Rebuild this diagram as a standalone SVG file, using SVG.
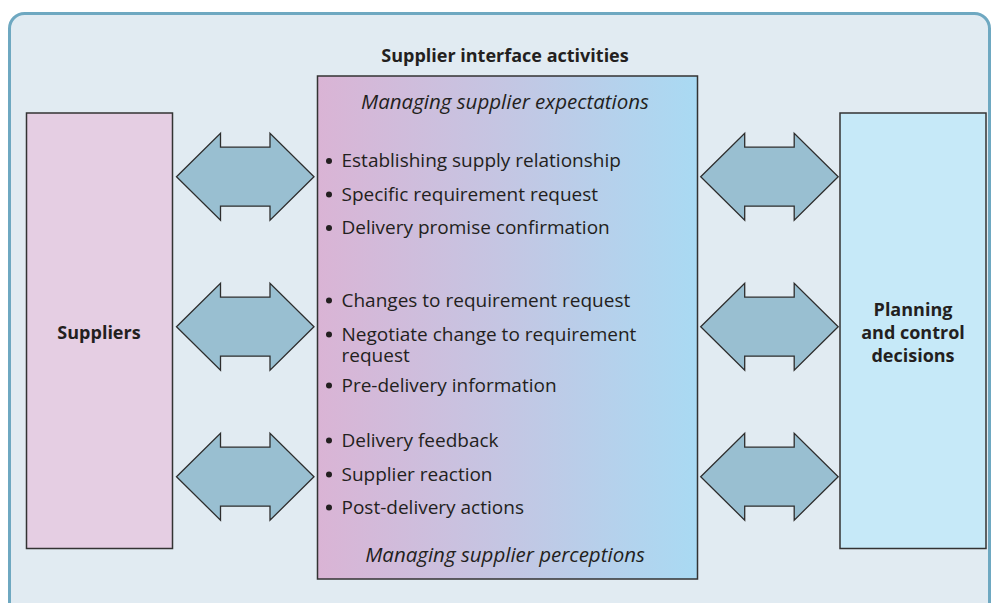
<svg xmlns="http://www.w3.org/2000/svg" width="997" height="603" viewBox="0 0 997 603">
<defs>
<linearGradient id="mid" x1="0" y1="0" x2="1" y2="0">
<stop offset="0" stop-color="#dab4d5"/>
<stop offset="0.5" stop-color="#c4c6e3"/>
<stop offset="1" stop-color="#a9daf3"/>
</linearGradient>
<path id="arrow" d="M0,0 L44,-43.5 L44,-29.5 L93.5,-29.5 L93.5,-43.5 L137.5,0 L93.5,43.5 L93.5,29.5 L44,29.5 L44,43.5 Z"/>
<style>
.box{stroke:#333;stroke-width:1.5}
.arr{fill:#99bfd1;stroke:#2d2d2d;stroke-width:1.3;stroke-linejoin:miter}
.t{font-family:"Open Sans","Liberation Sans",sans-serif;font-size:19px;fill:#231f20}
.h{font-size:18px;font-weight:bold}
.i{font-style:italic;font-size:20.5px}
.bul{fill:#231f20}
</style>
</defs>
<rect x="0" y="0" width="997" height="603" fill="#ffffff"/>
<g id="frame">
<rect x="9.5" y="13.5" width="980" height="620" rx="15" fill="#e1ebf2" stroke="#6ea8c1" stroke-width="3"/>
</g>
<g id="title"><text class="t h" x="505" y="61.5" text-anchor="middle">Supplier interface activities</text></g>
<g id="suppliers">
<rect class="box" x="26.5" y="113" width="146" height="435.5" fill="#e5cee3"/>
<text class="t h" x="99" y="338.5" text-anchor="middle">Suppliers</text>
</g>
<g id="activities">
<rect class="box" x="317.5" y="76" width="380" height="503" fill="url(#mid)"/>
<text class="t i" x="505" y="108.5" text-anchor="middle">Managing supplier expectations</text>
<g class="bul">
<circle cx="329" cy="161" r="3"/>
<circle cx="329" cy="194.5" r="3"/>
<circle cx="329" cy="228" r="3"/>
<circle cx="329" cy="300.5" r="3"/>
<circle cx="329" cy="334.5" r="3"/>
<circle cx="329" cy="385.5" r="3"/>
<circle cx="329" cy="440.5" r="3"/>
<circle cx="329" cy="474.5" r="3"/>
<circle cx="329" cy="507.5" r="3"/>
</g>
<text class="t" x="341.5" y="167">Establishing supply relationship</text>
<text class="t" x="341.5" y="200.5">Specific requirement request</text>
<text class="t" x="341.5" y="234">Delivery promise confirmation</text>
<text class="t" x="341.5" y="306.5">Changes to requirement request</text>
<text class="t" x="341.5" y="340.5">Negotiate change to requirement<tspan x="341.5" dy="21">request</tspan></text>
<text class="t" x="341.5" y="391.5">Pre-delivery information</text>
<text class="t" x="341.5" y="446.5">Delivery feedback</text>
<text class="t" x="341.5" y="480.5">Supplier reaction</text>
<text class="t" x="341.5" y="513.5">Post-delivery actions</text>
<text class="t i" x="505" y="561.5" text-anchor="middle">Managing supplier perceptions</text>
</g>
<g id="planning">
<rect class="box" x="840" y="113" width="146" height="435.5" fill="#c6e9f8"/>
<text class="t h" x="913" y="316" text-anchor="middle">Planning<tspan x="913" dy="23">and control</tspan><tspan x="913" dy="23">decisions</tspan></text>
</g>
<g id="connectors">
<use href="#arrow" class="arr" x="176.5" y="176.7"/>
<use href="#arrow" class="arr" x="176.5" y="326.7"/>
<use href="#arrow" class="arr" x="176.5" y="476.7"/>
<use href="#arrow" class="arr" x="700.7" y="176.7"/>
<use href="#arrow" class="arr" x="700.7" y="326.7"/>
<use href="#arrow" class="arr" x="700.7" y="476.7"/>
</g>
</svg>
